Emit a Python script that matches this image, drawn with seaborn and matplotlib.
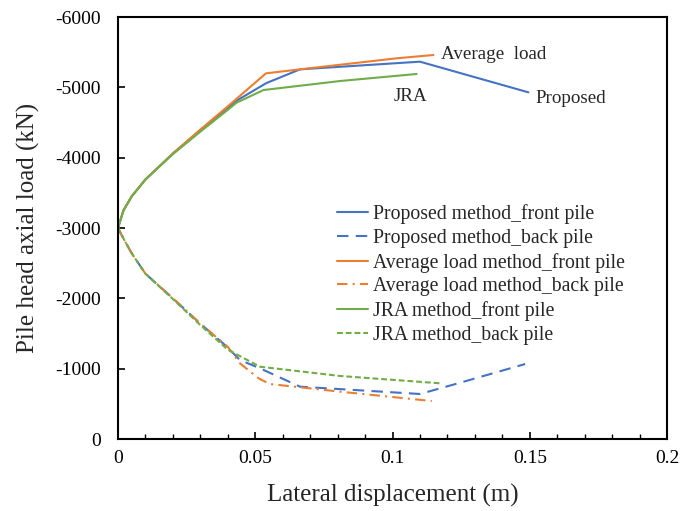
import numpy as np
import pandas as pd
import matplotlib
matplotlib.use("Agg")
import matplotlib.pyplot as plt
import seaborn as sns
from matplotlib.ticker import MultipleLocator, FuncFormatter

# Lateral displacement (m) and pile head axial load (kN)
prop_front_x = [0, 0.002, 0.005, 0.01, 0.02, 0.03, 0.04, 0.0432, 0.054, 0.0663, 0.110, 0.1495]
prop_front_y = [-3000, -3250, -3450, -3690, -4060, -4390, -4700, -4810, -5060, -5256, -5365, -4929]

avg_front_x = [0, 0.002, 0.005, 0.01, 0.02, 0.03, 0.04, 0.0539, 0.0663, 0.1015, 0.1149]
avg_front_y = [-3000, -3250, -3450, -3690, -4060, -4400, -4730, -5199, -5256, -5413, -5460]

jra_front_x = [0, 0.002, 0.005, 0.01, 0.02, 0.03, 0.04, 0.0432, 0.053, 0.0809, 0.1088]
jra_front_y = [-3000, -3250, -3450, -3690, -4050, -4370, -4680, -4782, -4962, -5090, -5190]

prop_back_x = [0, 0.002, 0.005, 0.01, 0.02, 0.03, 0.04, 0.0444, 0.0517, 0.0663, 0.110, 0.1246, 0.1483]
prop_back_y = [-3000, -2850, -2640, -2350, -2000, -1640, -1300, -1123, -1005, -744, -640, -800, -1066]

avg_back_x = [0, 0.002, 0.005, 0.01, 0.02, 0.03, 0.04, 0.0444, 0.0513, 0.0553, 0.0809, 0.1143]
avg_back_y = [-3000, -2850, -2640, -2350, -2000, -1640, -1310, -1076, -860, -782, -673, -540]

jra_back_x = [0, 0.002, 0.005, 0.01, 0.02, 0.03, 0.04, 0.0517, 0.0809, 0.1173]
jra_back_y = [-3000, -2850, -2640, -2350, -1990, -1620, -1270, -1028, -896, -792]

labels = [
    "Proposed method_front pile",
    "Proposed method_back pile",
    "Average load method_front pile",
    "Average load method_back pile",
    "JRA method_front pile",
    "JRA method_back pile",
]

BLUE = "#4472C4"
ORANGE = "#ED7D31"
GREEN = "#70AD47"

sns.set_style("white")
plt.rcParams["font.family"] = ["Liberation Serif", "DejaVu Serif"]
plt.rcParams["axes.unicode_minus"] = False

fig = plt.figure(figsize=(6.8, 5.11), dpi=100)
ax = fig.add_axes([0.1735, 0.1409, 0.981 - 0.1735, 0.9667 - 0.1409])

series = [
    (prop_front_x, prop_front_y, BLUE, None),
    (prop_back_x, prop_back_y, BLUE, (5.5, 3.5)),
    (avg_front_x, avg_front_y, ORANGE, None),
    (avg_back_x, avg_back_y, ORANGE, (5, 2.5, 1, 2.5)),
    (jra_front_x, jra_front_y, GREEN, None),
    (jra_back_x, jra_back_y, GREEN, (2.8, 1.4)),
]

for (xs, ys, color, dash), label in zip(series, labels):
    df = pd.DataFrame({"x": xs, "y": ys})
    sns.lineplot(data=df, x="x", y="y", sort=False, estimator=None,
                 color=color, linewidth=1.5, label=label, ax=ax)
    line = ax.lines[-1]
    if dash is not None:
        line.set_dashes(dash)

ax.set_xlim(0, 0.2)
ax.set_ylim(0, -6000)

ax.xaxis.set_major_locator(MultipleLocator(0.05))
ax.xaxis.set_minor_locator(MultipleLocator(0.01))
ax.yaxis.set_major_locator(MultipleLocator(1000))
ax.xaxis.set_major_formatter(FuncFormatter(lambda v, p: "%g" % round(v, 4)))
ax.yaxis.set_major_formatter(FuncFormatter(lambda v, p: "%d" % v))

ax.tick_params(axis="both", which="major", direction="in", length=5, width=1.2,
               labelsize=14, colors="black")
ax.tick_params(axis="x", which="major", pad=8)
ax.tick_params(axis="y", which="major", pad=12.5)
ax.tick_params(axis="x", which="minor", direction="in", length=3.5, width=1.0,
               colors="black")
ax.tick_params(axis="x", which="both", bottom=True)
ax.tick_params(axis="y", which="both", left=True)

for sp in ax.spines.values():
    sp.set_color("black")
    sp.set_linewidth(1.5)

ax.set_xlabel("Lateral displacement (m)", fontsize=18, labelpad=12)
ax.set_ylabel("Pile head axial load (kN)", fontsize=18, labelpad=11)

ax.text(0.1175, -5460, "Average  load", fontsize=13.7, va="center", ha="left")
ax.text(0.1005, -4870, "JRA", fontsize=13.7, va="center", ha="left")
ax.text(0.1522, -4835, "Proposed", fontsize=13.7, va="center", ha="left")

leg = ax.legend(loc="upper left", bbox_to_anchor=(0.398, 0.556), frameon=False,
                fontsize=14.2, handlelength=1.6, handletextpad=0.25,
                labelspacing=0.24, borderaxespad=0, borderpad=0)

fig.savefig("out.png", dpi=100)
